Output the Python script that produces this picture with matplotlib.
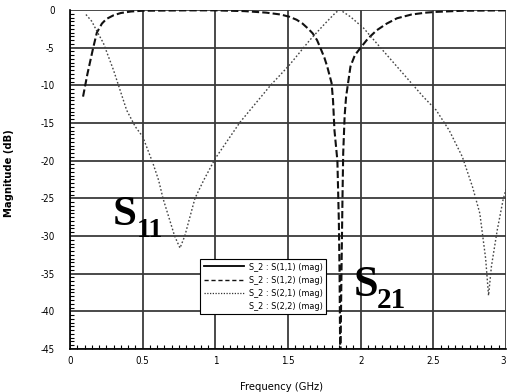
import matplotlib.pyplot as plt
from matplotlib.ticker import MultipleLocator
from matplotlib.lines import Line2D

# S(1,2) magnitude, dB (band-pass with a notch near 1.86 GHz)
f_s12 = [0.09, 0.12, 0.16, 0.185, 0.22, 0.25, 0.30, 0.35, 0.42, 0.50, 0.80, 1.00,
         1.20, 1.35, 1.45, 1.51, 1.56, 1.60, 1.64, 1.67, 1.70, 1.72, 1.75, 1.77,
         1.80, 1.81, 1.82, 1.84, 1.85, 1.855, 1.86, 1.868, 1.875, 1.88, 1.89, 1.90,
         1.93, 1.96, 2.00, 2.05, 2.11, 2.18, 2.25, 2.35, 2.45, 2.52, 2.70, 3.00]
s12_db = [-11.5, -8.5, -5.0, -3.0, -1.8, -1.2, -0.7, -0.4, -0.2, -0.1, -0.05, -0.05,
          -0.15, -0.35, -0.6, -0.9, -1.3, -1.8, -2.5, -3.1, -4.0, -4.9, -6.3, -7.5,
          -9.7, -12.0, -16.0, -20.0, -28.0, -35.0, -48.0, -35.0, -25.0, -19.0, -14.0, -11.5,
          -7.5, -6.0, -5.0, -3.8, -2.7, -1.8, -1.1, -0.6, -0.35, -0.25, -0.1, -0.05]

# S(2,1) magnitude, dB
f_s21 = [0.11, 0.15, 0.185, 0.23, 0.30, 0.39, 0.45, 0.50, 0.57, 0.61, 0.64, 0.72,
         0.757, 0.79, 0.86, 0.92, 1.00, 1.17, 1.38, 1.51, 1.65, 1.75, 1.83, 1.86,
         1.93, 2.02, 2.15, 2.29, 2.43, 2.52, 2.61, 2.70, 2.77, 2.82, 2.86, 2.88,
         2.90, 2.94, 2.98, 3.00]
s21_db = [-0.6, -1.5, -2.8, -4.4, -8.0, -13.3, -15.5, -16.8, -20.3, -22.6, -25.0, -30.0,
          -31.6, -30.0, -25.0, -22.6, -19.7, -14.9, -10.0, -7.3, -4.0, -1.9, -0.3, 0.0,
          -0.9, -2.4, -5.3, -8.4, -11.5, -13.3, -16.0, -19.5, -23.5, -27.0, -33.0, -37.9,
          -34.0, -29.2, -25.2, -23.8]

legend_labels = ["S_2 : S(1,1) (mag)", "S_2 : S(1,2) (mag)",
                 "S_2 : S(2,1) (mag)", "S_2 : S(2,2) (mag)"]

plt.rcParams['font.family'] = ['DejaVu Sans']
plt.rcParams['font.stretch'] = 'condensed'
plt.rcParams['axes.unicode_minus'] = False

fig = plt.figure(figsize=(5.07, 3.92), dpi=100)
ax = fig.add_axes([0.138, 0.1097, 0.86, 0.8648])

ax.plot(f_s12, s12_db, color="#111111", lw=1.5, ls=(0, (3.5, 1.5)))
ax.plot(f_s21, s21_db, color="#444444", lw=1.0, ls=(0, (1.2, 1.5)))

ax.set_xlim(0, 3)
ax.set_ylim(-45, 0)
ax.xaxis.set_minor_locator(MultipleLocator(0.05))
ax.yaxis.set_major_locator(MultipleLocator(5))
ax.yaxis.set_minor_locator(MultipleLocator(0.5))
ax.set_xticks([0, 0.5, 1, 1.5, 2, 2.5, 3])
ax.set_xticklabels(["0", "0.5", "1", "1.5", "2", "2.5", "3"])
ax.tick_params(which="both", direction="in", labelsize=7, colors="black")
ax.tick_params(axis="x", which="major", length=0, pad=5)
ax.tick_params(axis="y", which="major", length=0, pad=11)
ax.tick_params(which="minor", length=3, width=0.8)
ax.get_xticklabels()[-1].set_horizontalalignment("right")
ax.grid(True, which="major", color="#3a3a3a", lw=1.3)
ax.set_axisbelow(True)
for side in ("top", "right"):
    ax.spines[side].set_visible(False)
ax.spines["left"].set_linewidth(1.2)
ax.spines["bottom"].set_linewidth(1.2)

ax.set_xlabel("Frequency (GHz)", fontsize=8)
ax.set_ylabel("Magnitude (dB)", fontsize=8, fontweight="bold")
ax.xaxis.set_label_coords(0.486, -0.097)
ax.yaxis.set_label_coords(-0.128, 0.52)

# big S-parameter annotations
ax.text(0.296, -28.5, "S", fontsize=31, fontweight="bold", family="Liberation Serif")
ax.text(0.462, -30.1, "11", fontsize=20, fontweight="bold", family="Liberation Serif")
ax.text(1.955, -37.9, "S", fontsize=32, fontweight="bold", family="Liberation Serif")
ax.text(2.11, -39.6, "21", fontsize=21, fontweight="bold", family="Liberation Serif")

handles = [Line2D([], [], color="black", lw=1.3),
           Line2D([], [], color="#111111", lw=1.0, ls=(0, (3, 2))),
           Line2D([], [], color="#333333", lw=0.9, ls=(0, (1, 1.2))),
           Line2D([], [], ls="none")]
leg = ax.legend(handles, legend_labels, loc="upper left",
                bbox_to_anchor=(0.298, 0.2655), fontsize=6.5, frameon=True,
                fancybox=False, edgecolor="black", framealpha=1,
                handlelength=4.5, labelspacing=0.45, borderpad=0.4,
                handletextpad=0.5, borderaxespad=0)
leg.get_frame().set_linewidth(0.8)

fig.savefig("out.png", dpi=100)
